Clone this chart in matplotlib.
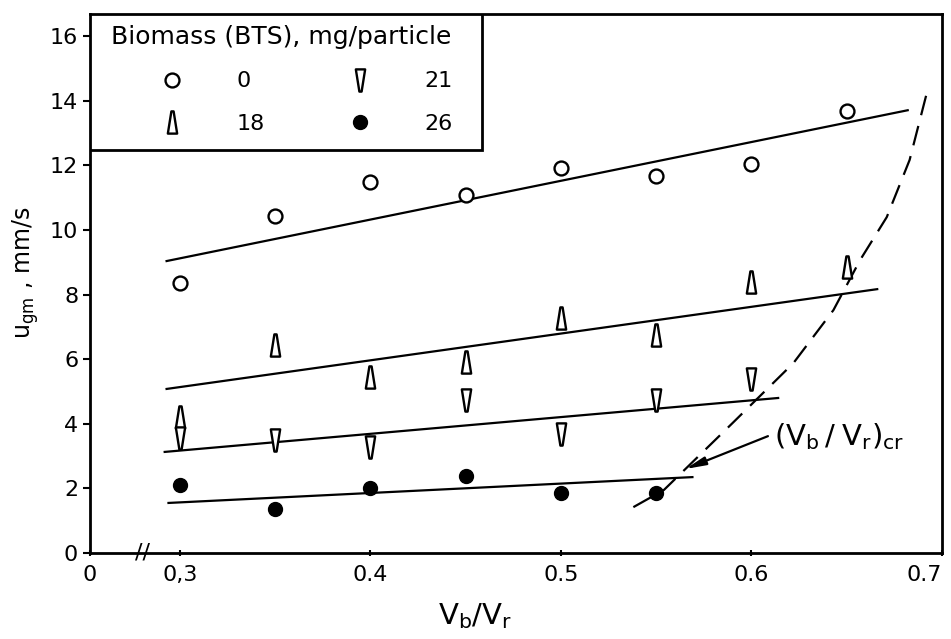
import matplotlib
matplotlib.use('Agg')
import matplotlib.pyplot as plt
from matplotlib.path import Path
from matplotlib.lines import Line2D
from matplotlib.patches import Rectangle
import numpy as np

# data
x_pts = [0.30, 0.35, 0.40, 0.45, 0.50, 0.55, 0.60, 0.65]
u_0 = [8.36, 10.43, 11.49, 11.08, 11.92, 11.67, 12.04, 13.70]
u_18 = [4.20, 6.44, 5.45, 5.90, 7.27, 6.75, 8.39, 8.85]
x_21 = [0.30, 0.35, 0.40, 0.45, 0.50, 0.55, 0.60]
u_21 = [3.55, 3.50, 3.28, 4.74, 3.70, 4.74, 5.40]
x_26 = [0.30, 0.35, 0.40, 0.45, 0.50, 0.55]
u_26 = [2.10, 1.36, 2.00, 2.38, 1.85, 1.85]

# fitted lines (end points)
fit_0_x, fit_0_y = [0.293, 0.682], [9.04, 13.71]
fit_18_x, fit_18_y = [0.293, 0.666], [5.08, 8.17]
fit_21_x, fit_21_y = [0.292, 0.614], [3.13, 4.80]
fit_26_x, fit_26_y = [0.294, 0.569], [1.55, 2.35]

# critical curve (dashed)
crit_x = [0.538, 0.554, 0.590, 0.606, 0.622, 0.643, 0.657, 0.671, 0.683, 0.692]
crit_y = [1.42, 1.95, 4.02, 4.95, 5.88, 7.52, 9.07, 10.40, 12.17, 14.24]

xticks = [0.2528, 0.3, 0.4, 0.5, 0.6, 0.7]
xticklabels = ['0', '0,3', '0.4', '0.5', '0.6', '0.7']
yticks = [0, 2, 4, 6, 8, 10, 12, 14, 16]

# narrow wedge markers
up = Path([(-0.42, -1), (0.42, -1), (0.1, 1), (-0.1, 1), (-0.42, -1)],
          [Path.MOVETO, Path.LINETO, Path.LINETO, Path.LINETO, Path.CLOSEPOLY])
down = Path([(-0.42, 1), (0.42, 1), (0.1, -1), (-0.1, -1), (-0.42, 1)],
            [Path.MOVETO, Path.LINETO, Path.LINETO, Path.LINETO, Path.CLOSEPOLY])

fig = plt.figure(figsize=(9.51, 6.39), dpi=100)
ax = fig.add_axes([90/951, 86/639, 852/951, 539/639])

ax.plot(fit_0_x, fit_0_y, 'k-', lw=1.6)
ax.plot(fit_18_x, fit_18_y, 'k-', lw=1.6)
ax.plot(fit_21_x, fit_21_y, 'k-', lw=1.6)
ax.plot(fit_26_x, fit_26_y, 'k-', lw=1.6)
ax.plot(crit_x, crit_y, 'k--', lw=1.6, dashes=(9, 5))

ax.plot(x_pts, u_0, 'o', ms=10, mfc='white', mec='black', mew=1.7, ls='none')
ax.plot(x_pts, u_18, marker=up, ms=16, mfc='white', mec='black', mew=1.7, ls='none')
ax.plot(x_21, u_21, marker=down, ms=16, mfc='white', mec='black', mew=1.7, ls='none')
ax.plot(x_26, u_26, 'o', ms=10, mfc='black', mec='black', ls='none')

ax.annotate('', xy=(0.564, 2.57), xytext=(0.610, 3.65),
            arrowprops=dict(arrowstyle='-|>,head_length=1.2,head_width=0.25',
                            color='black', lw=1.6))
ax.text(0.612, 3.6, r'$\left(\mathrm{V_b}\,/\;\mathrm{V_r}\right)_\mathrm{cr}$', fontsize=21,
        ha='left', va='center')

ax.set_xlim(0.2528, 0.7)
ax.set_ylim(0, 16.69)
ax.set_xticks(xticks)
ax.set_xticklabels(xticklabels)
ax.get_xticklabels()[-1].set_horizontalalignment('right')
ax.set_yticks(yticks)
ax.tick_params(axis='both', labelsize=16, width=1.5, length=5)
ax.tick_params(axis='x', direction='inout', pad=6)
for s in ax.spines.values():
    s.set_linewidth(2)

ax.set_xlabel(r'$\mathrm{V_b/V_r}$', fontsize=21, labelpad=0)
ax.xaxis.set_label_coords(0.452, -0.09)
ax.set_ylabel(r'$\mathrm{u_{gm}}$ , mm/s', fontsize=17, labelpad=6)
ax.yaxis.set_label_coords(-0.058, 0.52)

# axis break
ax.text(0.2806, 0, '//', fontsize=16, ha='center', va='center', clip_on=False)

# legend with its own box
ax.add_patch(Rectangle((0, 0.7477), 0.46, 0.2523, transform=ax.transAxes,
                       fill=True, facecolor='white', edgecolor='black', lw=2, zorder=3))
handles = [
    Line2D([], [], marker='o', ms=10, mfc='white', mec='black', mew=1.7, ls='none'),
    Line2D([], [], marker=up, ms=16, mfc='white', mec='black', mew=1.7, ls='none'),
    Line2D([], [], marker=down, ms=16, mfc='white', mec='black', mew=1.7, ls='none'),
    Line2D([], [], marker='o', ms=10, mfc='black', mec='black', ls='none'),
]
leg = ax.legend(handles, ['0', '18', '21', '26'], ncol=2,
                title='Biomass (BTS), mg/particle', title_fontsize=18,
                fontsize=16, frameon=False, loc='upper left',
                bbox_to_anchor=(0.01, 1.0), borderaxespad=0.0, borderpad=0.5,
                handlelength=5.6, handletextpad=0.1, columnspacing=1.5,
                labelspacing=1.0)
leg.set_zorder(4)

plt.savefig('out.png', dpi=100)
